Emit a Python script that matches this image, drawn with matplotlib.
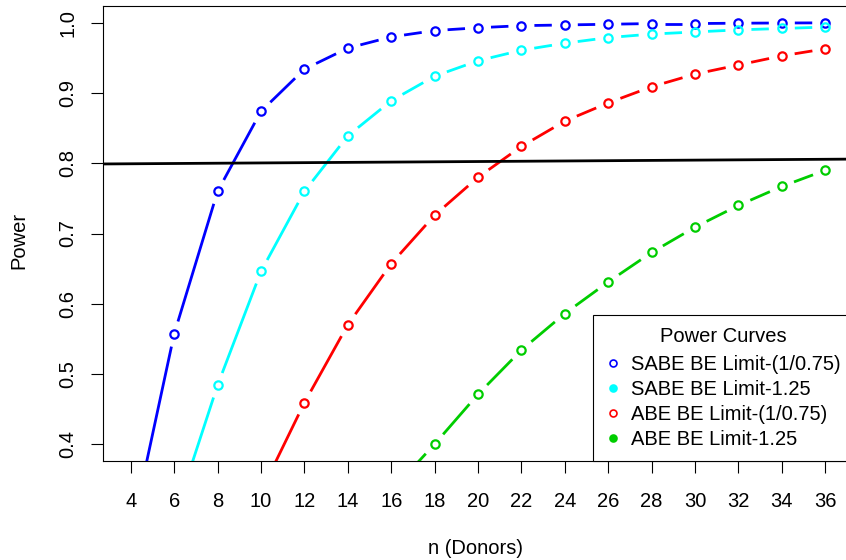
import numpy as np
import matplotlib
matplotlib.use("Agg")
import matplotlib.pyplot as plt
from matplotlib.lines import Line2D

plt.rcParams['font.family'] = ['Liberation Sans', 'DejaVu Sans']

# number of donors per series
n_sabe_175 = [4, 6, 8, 10, 12, 14, 16, 18, 20, 22, 24, 26, 28, 30, 32, 34, 36]
n_sabe_125 = [6, 8, 10, 12, 14, 16, 18, 20, 22, 24, 26, 28, 30, 32, 34, 36]
n_abe_175 = [10, 12, 14, 16, 18, 20, 22, 24, 26, 28, 30, 32, 34, 36]
n_abe_125 = [16, 18, 20, 22, 24, 26, 28, 30, 32, 34, 36]

# power values
pw_sabe_175 = [0.27, 0.557, 0.760, 0.874, 0.934, 0.964, 0.980, 0.989, 0.993,
               0.996, 0.997, 0.998, 0.999, 0.999, 0.9995, 0.9998, 1.0]
pw_sabe_125 = [0.295, 0.484, 0.646, 0.760, 0.839, 0.889, 0.924, 0.946, 0.961,
               0.971, 0.979, 0.984, 0.987, 0.990, 0.992, 0.994]
pw_abe_175 = [0.332, 0.459, 0.570, 0.657, 0.726, 0.780, 0.824, 0.860, 0.886,
              0.909, 0.927, 0.940, 0.953, 0.963]
pw_abe_125 = [0.333, 0.400, 0.471, 0.534, 0.586, 0.631, 0.673, 0.709, 0.740,
              0.767, 0.790]

labels = ["SABE BE Limit-(1/0.75)", "SABE BE Limit-1.25",
          "ABE BE Limit-(1/0.75)", "ABE BE Limit-1.25"]
colors = ["#0000FF", "#00FFFF", "#FF0000", "#00CD00"]
legend_filled = [False, True, False, True]

# reference line (slightly tilted, as in original)
ref_intercept = 0.7985
ref_slope = 0.0002

x_ticks = list(range(4, 37, 2))
y_ticks = [0.4, 0.5, 0.6, 0.7, 0.8, 0.9, 1.0]

W, H = 846, 560
fig = plt.figure(figsize=(W / 100, H / 100), dpi=100)
fig.set_facecolor('white')
left, right, top, bottom = 103, 853, 6, 461
ax = fig.add_axes([left / W, 1 - bottom / H, (right - left) / W, (bottom - top) / H])
ax.set_xlim(2.72, 37.28)
ax.set_ylim(0.376, 1.024)

FS = 14.5
GAP = 13  # pixels of gap around points (R type="b")


def plot_b(x, y, color):
    pts = ax.transData.transform(np.column_stack([x, y]))
    for p0, p1 in zip(pts[:-1], pts[1:]):
        d = p1 - p0
        L = np.hypot(*d)
        if L <= 2 * GAP:
            continue
        u = d / L
        a = ax.transData.inverted().transform(p0 + u * GAP)
        b = ax.transData.inverted().transform(p1 - u * GAP)
        ax.plot([a[0], b[0]], [a[1], b[1]], color=color, lw=2.0,
                solid_capstyle='butt')
    ax.plot(x, y, linestyle='none', marker='o', markersize=6,
            markerfacecolor='none', markeredgecolor=color, markeredgewidth=1.6)


series = [(n_sabe_175, pw_sabe_175), (n_sabe_125, pw_sabe_125),
          (n_abe_175, pw_abe_175), (n_abe_125, pw_abe_125)]
for (x, y), c in zip(series, colors):
    plot_b(x, y, c)

ax.axline((0, ref_intercept), slope=ref_slope, color='black', lw=2.0)

ax.set_xticks(x_ticks)
ax.set_yticks(y_ticks)
ax.set_yticklabels([f"{v:.1f}" for v in y_ticks], rotation=90, va='center')
ax.tick_params(axis='both', labelsize=FS, length=8.5, width=0.8, direction='out')
ax.tick_params(axis='x', pad=14)
ax.tick_params(axis='y', pad=10)
for s in ax.spines.values():
    s.set_linewidth(0.8)

fig.text(475 / W, 1 - 548 / H, "n (Donors)", ha='center', va='center', fontsize=FS)
fig.text(18.5 / W, 1 - 240 / H, "Power", ha='center', va='center', fontsize=FS,
         rotation=90)

handles = [Line2D([], [], linestyle='none', marker='o', markersize=5,
                  markeredgecolor=c, markeredgewidth=1.2,
                  markerfacecolor=c if f else 'none')
           for c, f in zip(colors, legend_filled)]
leg = ax.legend(handles, labels, title="Power Curves", loc='lower right',
                fontsize=FS, title_fontsize=FS, fancybox=False,
                edgecolor='black', framealpha=1, borderaxespad=0,
                handlelength=0.8, handletextpad=0.5, labelspacing=0.3,
                borderpad=0.6)
leg.get_frame().set_linewidth(0.8)
# a little extra room between title and entries
leg._legend_box.sep = 6.5

fig.savefig("out.png", dpi=100)
